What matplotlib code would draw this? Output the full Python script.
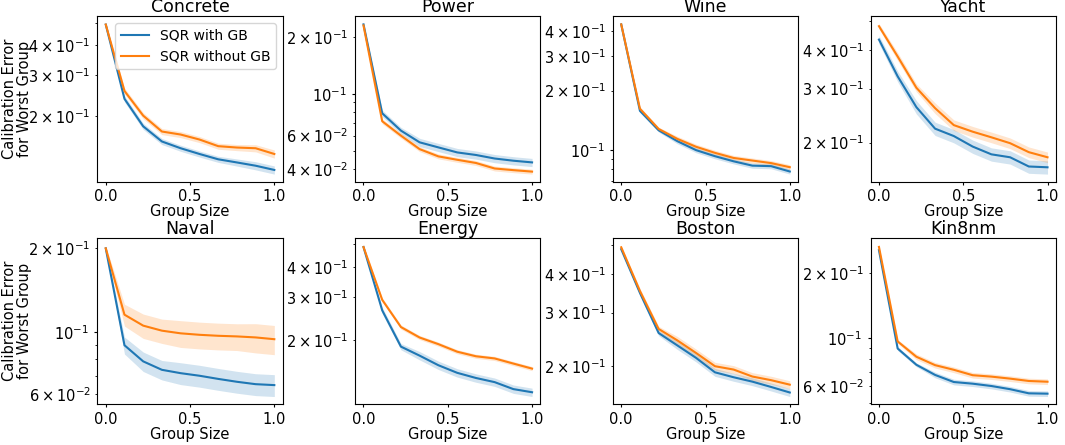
import numpy as np
import matplotlib
matplotlib.use("Agg")
import matplotlib.pyplot as plt

# =========================
# Data
# =========================
group_size = [0.0, 0.111, 0.222, 0.333, 0.444, 0.556, 0.667, 0.778, 0.889, 1.0]

titles = ["Concrete", "Power", "Wine", "Yacht", "Naval", "Energy", "Boston", "Kin8nm"]

concrete_gb = [0.491, 0.237, 0.181, 0.156, 0.146, 0.138, 0.131, 0.127, 0.123, 0.118]
concrete_nogb = [0.491, 0.256, 0.201, 0.172, 0.167, 0.159, 0.149, 0.147, 0.146, 0.138]
power_gb = [0.233, 0.0788, 0.0638, 0.0553, 0.0520, 0.0489, 0.0474, 0.0454, 0.0442, 0.0433]
power_nogb = [0.230, 0.0715, 0.0600, 0.0509, 0.0466, 0.0447, 0.0430, 0.0402, 0.0394, 0.0387]
wine_gb = [0.432, 0.158, 0.126, 0.111, 0.100, 0.0932, 0.0878, 0.0835, 0.0830, 0.0780]
wine_nogb = [0.432, 0.162, 0.128, 0.114, 0.104, 0.0969, 0.0913, 0.0886, 0.0860, 0.0820]
yacht_gb = [0.434, 0.329, 0.261, 0.222, 0.210, 0.194, 0.183, 0.179, 0.167, 0.166]
yacht_nogb = [0.480, 0.382, 0.302, 0.259, 0.228, 0.217, 0.208, 0.199, 0.186, 0.179]
naval_gb = [0.200, 0.0899, 0.0787, 0.0734, 0.0714, 0.0699, 0.0681, 0.0665, 0.0652, 0.0647]
naval_nogb = [0.200, 0.1157, 0.1057, 0.1014, 0.0992, 0.0980, 0.0972, 0.0967, 0.0959, 0.0945]
energy_gb = [0.485, 0.265, 0.1875, 0.172, 0.157, 0.146, 0.139, 0.1336, 0.125, 0.1213]
energy_nogb = [0.485, 0.293, 0.226, 0.2045, 0.192, 0.1786, 0.171, 0.1675, 0.1595, 0.152]
boston_gb = [0.484, 0.348, 0.257, 0.234, 0.213, 0.191, 0.184, 0.178, 0.171, 0.164]
boston_nogb = [0.491, 0.353, 0.265, 0.243, 0.221, 0.200, 0.195, 0.185, 0.180, 0.174]
kin8nm_gb = [0.2546, 0.0894, 0.0752, 0.0675, 0.0626, 0.0615, 0.0600, 0.0580, 0.0555, 0.0553]
kin8nm_nogb = [0.2636, 0.0964, 0.0819, 0.0749, 0.0713, 0.0673, 0.0663, 0.0649, 0.0633, 0.0628]

# relative spread of the shaded band (fraction of the mean)
concrete_gb_sd = [0.01, 0.03, 0.03, 0.03, 0.03, 0.03, 0.03, 0.035, 0.04, 0.04]
concrete_nogb_sd = [0.01, 0.03, 0.03, 0.03, 0.03, 0.03, 0.03, 0.03, 0.035, 0.04]
power_gb_sd = [0.01, 0.04, 0.04, 0.05, 0.05, 0.05, 0.05, 0.05, 0.05, 0.05]
power_nogb_sd = [0.01, 0.03, 0.03, 0.03, 0.03, 0.03, 0.03, 0.03, 0.03, 0.03]
wine_gb_sd = [0.01, 0.02, 0.02, 0.03, 0.03, 0.03, 0.03, 0.03, 0.03, 0.03]
wine_nogb_sd = [0.01, 0.02, 0.02, 0.03, 0.03, 0.03, 0.03, 0.03, 0.03, 0.03]
yacht_gb_sd = [0.03, 0.04, 0.05, 0.05, 0.05, 0.05, 0.05, 0.05, 0.05, 0.05]
yacht_nogb_sd = [0.02, 0.03, 0.03, 0.04, 0.04, 0.04, 0.04, 0.04, 0.04, 0.04]
naval_gb_sd = [0.01, 0.07, 0.08, 0.08, 0.09, 0.09, 0.09, 0.09, 0.09, 0.09]
naval_nogb_sd = [0.02, 0.09, 0.10, 0.10, 0.11, 0.11, 0.11, 0.11, 0.12, 0.12]
energy_gb_sd = [0.01, 0.03, 0.03, 0.04, 0.04, 0.04, 0.04, 0.04, 0.04, 0.04]
energy_nogb_sd = [0.01, 0.02, 0.02, 0.02, 0.02, 0.02, 0.02, 0.02, 0.02, 0.02]
boston_gb_sd = [0.01, 0.02, 0.02, 0.03, 0.03, 0.03, 0.03, 0.03, 0.03, 0.03]
boston_nogb_sd = [0.01, 0.02, 0.02, 0.03, 0.03, 0.03, 0.03, 0.03, 0.03, 0.03]
kin8nm_gb_sd = [0.01, 0.02, 0.02, 0.03, 0.03, 0.03, 0.03, 0.03, 0.03, 0.03]
kin8nm_nogb_sd = [0.01, 0.02, 0.03, 0.03, 0.03, 0.03, 0.03, 0.03, 0.03, 0.03]

with_gb = [concrete_gb, power_gb, wine_gb, yacht_gb, naval_gb, energy_gb, boston_gb, kin8nm_gb]
without_gb = [concrete_nogb, power_nogb, wine_nogb, yacht_nogb, naval_nogb, energy_nogb, boston_nogb, kin8nm_nogb]
with_gb_sd = [concrete_gb_sd, power_gb_sd, wine_gb_sd, yacht_gb_sd, naval_gb_sd, energy_gb_sd, boston_gb_sd, kin8nm_gb_sd]
without_gb_sd = [concrete_nogb_sd, power_nogb_sd, wine_nogb_sd, yacht_nogb_sd, naval_nogb_sd, energy_nogb_sd, boston_nogb_sd, kin8nm_nogb_sd]

# =========================
# Plot
# =========================
plt.rcParams["font.size"] = 10.5
plt.rcParams["xtick.major.size"] = 2
plt.rcParams["ytick.major.size"] = 2.5
plt.rcParams["ytick.minor.size"] = 1.5

fig, axes = plt.subplots(2, 4, figsize=(10.65, 4.45), dpi=100)
fig.subplots_adjust(left=0.0914, right=0.9915, top=0.964, bottom=0.092, wspace=0.39, hspace=0.343)

x = np.array(group_size)
for i, ax in enumerate(axes.flat):
    for mean, sd, label in [(with_gb[i], with_gb_sd[i], "SQR with GB"),
                            (without_gb[i], without_gb_sd[i], "SQR without GB")]:
        m = np.array(mean)
        s = np.array(sd) * m
        line, = ax.plot(x, m, linewidth=1.5, label=label)
        ax.fill_between(x, m - s, m + s, color=line.get_color(), alpha=0.2, linewidth=0)
    ax.set_yscale("log")
    ax.set_title(titles[i], fontsize=12.5, pad=2)
    ax.set_xlabel("Group Size", labelpad=0)
    if i % 4 == 0:
        ax.set_ylabel("Calibration Error\nfor Worst Group", linespacing=1.0)
        ax.yaxis.set_label_coords(-0.35, 0.5)

axes[0, 0].legend(loc="upper right", fontsize=10)

plt.savefig("out.png", dpi=100)
